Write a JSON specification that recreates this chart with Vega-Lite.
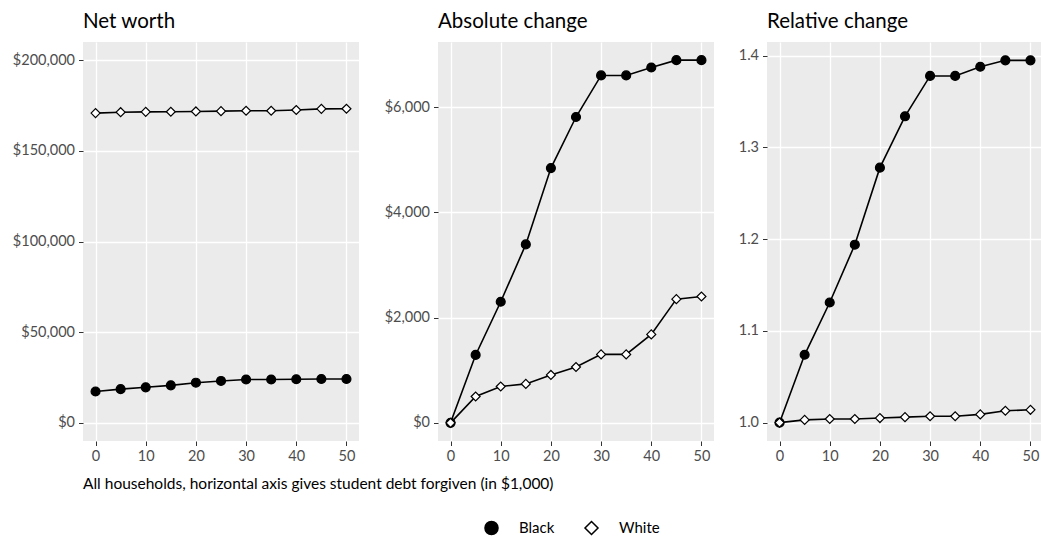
{
  "$schema": "https://vega.github.io/schema/vega-lite/v6.json",
  "padding": {"left": 9, "top": 11, "right": 0, "bottom": 5},
  "background": "white",
  "datasets": {
    "d": [
      {"forgiven": 0, "race": "Black", "networth": 17300, "abs": 0, "rel": 1.000},
      {"forgiven": 5, "race": "Black", "networth": 18590, "abs": 1290, "rel": 1.074},
      {"forgiven": 10, "race": "Black", "networth": 19600, "abs": 2300, "rel": 1.131},
      {"forgiven": 15, "race": "Black", "networth": 20690, "abs": 3390, "rel": 1.194},
      {"forgiven": 20, "race": "Black", "networth": 22140, "abs": 4840, "rel": 1.278},
      {"forgiven": 25, "race": "Black", "networth": 23110, "abs": 5810, "rel": 1.334},
      {"forgiven": 30, "race": "Black", "networth": 23900, "abs": 6600, "rel": 1.378},
      {"forgiven": 35, "race": "Black", "networth": 23900, "abs": 6600, "rel": 1.378},
      {"forgiven": 40, "race": "Black", "networth": 24050, "abs": 6750, "rel": 1.388},
      {"forgiven": 45, "race": "Black", "networth": 24190, "abs": 6890, "rel": 1.395},
      {"forgiven": 50, "race": "Black", "networth": 24190, "abs": 6890, "rel": 1.395},
      {"forgiven": 0, "race": "White", "networth": 170800, "abs": 0, "rel": 1.000},
      {"forgiven": 5, "race": "White", "networth": 171300, "abs": 500, "rel": 1.003},
      {"forgiven": 10, "race": "White", "networth": 171490, "abs": 690, "rel": 1.004},
      {"forgiven": 15, "race": "White", "networth": 171540, "abs": 740, "rel": 1.004},
      {"forgiven": 20, "race": "White", "networth": 171710, "abs": 910, "rel": 1.005},
      {"forgiven": 25, "race": "White", "networth": 171860, "abs": 1060, "rel": 1.006},
      {"forgiven": 30, "race": "White", "networth": 172100, "abs": 1300, "rel": 1.007},
      {"forgiven": 35, "race": "White", "networth": 172100, "abs": 1300, "rel": 1.007},
      {"forgiven": 40, "race": "White", "networth": 172480, "abs": 1680, "rel": 1.009},
      {"forgiven": 45, "race": "White", "networth": 173150, "abs": 2350, "rel": 1.013},
      {"forgiven": 50, "race": "White", "networth": 173200, "abs": 2400, "rel": 1.014}
    ]
  },
  "data": {"name": "d"},
  "config": {
    "font": "Lato",
    "view": {"fill": "#ebebeb", "stroke": null},
    "axis": {
      "grid": true,
      "gridColor": "white",
      "gridWidth": 1.3,
      "domain": false,
      "tickColor": "#333333",
      "tickSize": 4.5,
      "tickWidth": 1,
      "labelColor": "#4d4d4d",
      "labelFont": "Lato",
      "labelFontSize": 14.5,
      "labelPadding": 4
    },
    "legend": {
      "labelFont": "Lato",
      "labelFontSize": 15,
      "labelColor": "black",
      "symbolSize": 170,
      "columnPadding": 26,
      "labelOffset": 20
    },
    "title": {"font": "Lato", "fontSize": 20.5, "fontWeight": "normal", "anchor": "start", "frame": "group", "color": "black", "offset": 10}
  },
  "vconcat": [
    {
      "title": {"text": "All households, horizontal axis gives student debt forgiven (in $1,000)", "orient": "bottom", "anchor": "start", "frame": "group", "fontSize": 15.5, "offset": 14},
      "spacing": 22,
      "hconcat": [
        {
          "width": 276,
          "height": 399,
          "title": "Net worth",
          "layer": [
            {
              "mark": {"type": "line", "color": "black", "strokeWidth": 1.6},
              "encoding": {
                "x": {"field": "forgiven", "type": "quantitative"},
                "y": {"field": "networth", "type": "quantitative"},
                "detail": {"field": "race"}
              }
            },
            {
              "mark": {"type": "point", "filled": true, "opacity": 1, "stroke": "black", "strokeWidth": 1.2, "size": 80},
              "encoding": {
                "x": {"field": "forgiven", "type": "quantitative",
                  "scale": {"domain": [-2.5, 52.5], "nice": false, "zero": false},
                  "axis": {"values": [0, 10, 20, 30, 40, 50], "title": null}},
                "y": {"field": "networth", "type": "quantitative",
                  "scale": {"domain": [-10000, 210000], "nice": false, "zero": false},
                  "axis": {"values": [0, 50000, 100000, 150000, 200000], "format": "$,.0f", "title": null, "minExtent": 74, "maxExtent": 74}},
                "shape": {"field": "race", "type": "nominal", "scale": {"domain": ["Black", "White"], "range": ["circle", "diamond"]},
                  "legend": {"title": null, "orient": "none", "direction": "horizontal", "legendX": 401, "legendY": 478, "encode": {"symbols": {"update": {"stroke": {"value": "black"}, "strokeWidth": {"value": 1.3}}}}}},
                "fill": {"field": "race", "type": "nominal", "scale": {"domain": ["Black", "White"], "range": ["black", "white"]},
                  "legend": {"title": null, "orient": "none", "direction": "horizontal", "legendX": 401, "legendY": 478, "encode": {"symbols": {"update": {"stroke": {"value": "black"}, "strokeWidth": {"value": 1.3}}}}}}
              }
            }
          ]
        },
        {
          "width": 276,
          "height": 399,
          "title": "Absolute change",
          "layer": [
            {
              "mark": {"type": "line", "color": "black", "strokeWidth": 1.6},
              "encoding": {
                "x": {"field": "forgiven", "type": "quantitative"},
                "y": {"field": "abs", "type": "quantitative"},
                "detail": {"field": "race"}
              }
            },
            {
              "mark": {"type": "point", "filled": true, "opacity": 1, "stroke": "black", "strokeWidth": 1.2, "size": 80},
              "encoding": {
                "x": {"field": "forgiven", "type": "quantitative",
                  "scale": {"domain": [-2.5, 52.5], "nice": false, "zero": false},
                  "axis": {"values": [0, 10, 20, 30, 40, 50], "title": null}},
                "y": {"field": "abs", "type": "quantitative",
                  "scale": {"domain": [-345, 7235], "nice": false, "zero": false},
                  "axis": {"values": [0, 2000, 4000, 6000], "format": "$,.0f", "title": null, "minExtent": 57, "maxExtent": 57}},
                "shape": {"field": "race", "type": "nominal", "scale": {"domain": ["Black", "White"], "range": ["circle", "diamond"]},
                  "legend": {"title": null, "orient": "none", "direction": "horizontal", "legendX": 401, "legendY": 478, "encode": {"symbols": {"update": {"stroke": {"value": "black"}, "strokeWidth": {"value": 1.3}}}}}},
                "fill": {"field": "race", "type": "nominal", "scale": {"domain": ["Black", "White"], "range": ["black", "white"]},
                  "legend": {"title": null, "orient": "none", "direction": "horizontal", "legendX": 401, "legendY": 478, "encode": {"symbols": {"update": {"stroke": {"value": "black"}, "strokeWidth": {"value": 1.3}}}}}}
              }
            }
          ]
        },
        {
          "width": 276,
          "height": 399,
          "title": "Relative change",
          "layer": [
            {
              "mark": {"type": "line", "color": "black", "strokeWidth": 1.6},
              "encoding": {
                "x": {"field": "forgiven", "type": "quantitative"},
                "y": {"field": "rel", "type": "quantitative"},
                "detail": {"field": "race"}
              }
            },
            {
              "mark": {"type": "point", "filled": true, "opacity": 1, "stroke": "black", "strokeWidth": 1.2, "size": 80},
              "encoding": {
                "x": {"field": "forgiven", "type": "quantitative",
                  "scale": {"domain": [-2.5, 52.5], "nice": false, "zero": false},
                  "axis": {"values": [0, 10, 20, 30, 40, 50], "title": null}},
                "y": {"field": "rel", "type": "quantitative",
                  "scale": {"domain": [0.98, 1.415], "nice": false, "zero": false},
                  "axis": {"values": [1.0, 1.1, 1.2, 1.3, 1.4], "format": ".1f", "title": null, "minExtent": 31, "maxExtent": 31}},
                "shape": {"field": "race", "type": "nominal", "scale": {"domain": ["Black", "White"], "range": ["circle", "diamond"]},
                  "legend": {"title": null, "orient": "none", "direction": "horizontal", "legendX": 401, "legendY": 478, "encode": {"symbols": {"update": {"stroke": {"value": "black"}, "strokeWidth": {"value": 1.3}}}}}},
                "fill": {"field": "race", "type": "nominal", "scale": {"domain": ["Black", "White"], "range": ["black", "white"]},
                  "legend": {"title": null, "orient": "none", "direction": "horizontal", "legendX": 401, "legendY": 478, "encode": {"symbols": {"update": {"stroke": {"value": "black"}, "strokeWidth": {"value": 1.3}}}}}}
              }
            }
          ]
        }
      ]
    }
  ]
}
